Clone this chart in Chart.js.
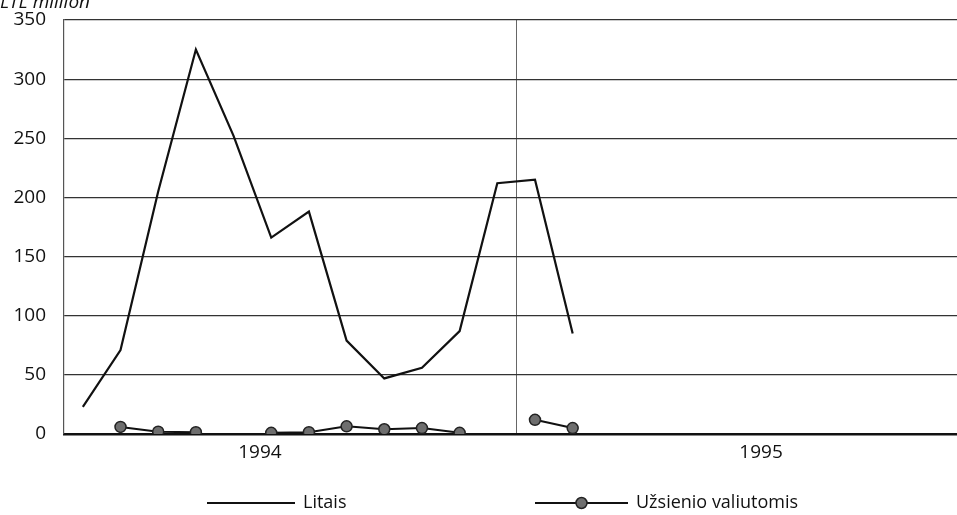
<!DOCTYPE html>
<html>
<head>
<meta charset="utf-8">
<script src="https://cdn.jsdelivr.net/npm/chart.js@4/dist/chart.umd.min.js"></script>
<style>
  html, body { margin: 0; padding: 0; background: #fff; }
  #wrap { width: 957px; height: 515px; }
</style>
</head>
<body>
<div id="wrap"><canvas id="chart"></canvas></div>
<script>
// month index 0..23 : Jan 1994 .. Dec 1995
var months = [0, 1, 2, 3, 4, 5, 6, 7, 8, 9, 10, 11, 12, 13];
var litais = [23, 71, 205, 325, 252, 166, 188, 79, 47, 56, 87, 212, 215, 85];
var uzsienio = [null, 6, 2, 1.5, null, 1, 1.5, 6.5, 4, 5, 1, null, 12, 5];
var yearLabels = ['1994', '1995'];
var yearTickPos = [5.2, 18.5];
var yearBreak = 12;
var yTitle = 'LTL million';

var font = "'Open Sans', 'DejaVu Sans', sans-serif";

function toPoints(vals) {
  return vals.map(function (v, i) { return { x: months[i] + 0.5, y: v }; });
}

// cropped axis title + legend drawn from the datasets
var extras = {
  id: 'extras',
  afterDraw: function (chart) {
    var ctx = chart.ctx;
    ctx.save();
    ctx.fillStyle = '#111';
    ctx.font = 'italic 19px ' + font;
    ctx.textBaseline = 'alphabetic';
    ctx.textAlign = 'left';
    ctx.fillText(yTitle, 0, 8);

    var items = [
      { ds: chart.data.datasets[0], x: 207, w: 88 },
      { ds: chart.data.datasets[1], x: 535, w: 93 }
    ];
    var y = 503;
    ctx.font = '18px ' + font;
    ctx.textBaseline = 'middle';
    items.forEach(function (it) {
      ctx.strokeStyle = it.ds.borderColor;
      ctx.lineWidth = 2;
      ctx.beginPath();
      ctx.moveTo(it.x, y);
      ctx.lineTo(it.x + it.w, y);
      ctx.stroke();
      if (it.ds.pointRadius > 0) {
        ctx.beginPath();
        ctx.arc(it.x + it.w / 2, y, it.ds.pointRadius, 0, Math.PI * 2);
        ctx.fillStyle = it.ds.pointBackgroundColor;
        ctx.fill();
        ctx.strokeStyle = it.ds.pointBorderColor;
        ctx.lineWidth = 1.5;
        ctx.stroke();
      }
      ctx.fillStyle = '#111';
      ctx.fillText(it.ds.label, it.x + it.w + 8, y);
    });
    ctx.restore();
  }
};

new Chart(document.getElementById('chart'), {
  type: 'line',
  data: {
    datasets: [
      {
        label: 'Litais',
        data: toPoints(litais),
        borderColor: '#111',
        borderWidth: 2.2,
        pointRadius: 0,
        tension: 0
      },
      {
        label: 'Užsienio valiutomis',
        data: toPoints(uzsienio),
        borderColor: '#111',
        borderWidth: 2,
        pointRadius: 5.5,
        pointBackgroundColor: '#6e6e6e',
        pointBorderColor: '#222',
        pointBorderWidth: 1.5,
        spanGaps: false,
        tension: 0
      }
    ]
  },
  plugins: [extras],
  options: {
    responsive: true,
    maintainAspectRatio: false,
    animation: false,
    layout: { autoPadding: false, padding: { top: 20, right: 0, bottom: 41, left: 0 } },
    plugins: {
      legend: { display: false },
      tooltip: { enabled: false }
    },
    scales: {
      x: {
        type: 'linear',
        min: 0,
        max: 23.7,
        afterBuildTicks: function (scale) {
          scale.ticks = [
            { value: yearTickPos[0] },
            { value: yearBreak },
            { value: yearTickPos[1] }
          ];
        },
        afterFit: function (scale) {
          scale.height = 40;
          scale.paddingLeft = 0;
          scale.paddingRight = 0;
        },
        ticks: {
          autoSkip: false,
          maxRotation: 0,
          padding: 7,
          color: '#111',
          font: { family: font, size: 19 },
          callback: function (v) {
            var i = yearTickPos.indexOf(v);
            return i >= 0 ? yearLabels[i] : '';
          }
        },
        grid: {
          drawTicks: false,
          lineWidth: 1,
          color: function (c) {
            return c.tick && c.tick.value === yearBreak ? '#666' : 'rgba(0,0,0,0)';
          }
        },
        border: { display: true, color: '#111', width: 2.5 }
      },
      y: {
        min: 0,
        max: 350,
        afterFit: function (scale) {
          scale.width = 64;
          scale.paddingTop = 0;
          scale.paddingBottom = 0;
        },
        ticks: {
          stepSize: 50,
          padding: 18,
          color: '#111',
          font: { family: font, size: 19 }
        },
        grid: { drawTicks: false, color: '#333', lineWidth: 1.2 },
        border: { display: true, color: '#555', width: 1.2 }
      }
    }
  }
});
</script>
</body>
</html>
